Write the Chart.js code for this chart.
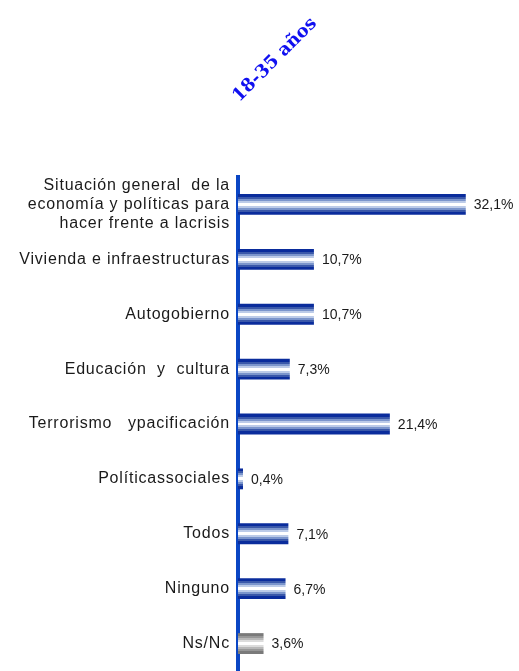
<!DOCTYPE html>
<html><head><meta charset="utf-8">
<script src="https://cdn.jsdelivr.net/npm/chart.js@4.4.1/dist/chart.umd.min.js"></script>
<style>html,body{margin:0;padding:0;background:#fff;}#wrap{width:519px;height:671px;position:relative;}</style>
</head><body><div id="wrap"><canvas id="c" width="519" height="671"></canvas></div>
<script>
const categories = [
  ["Situación general  de la", "economía y políticas para", "hacer frente a lacrisis"],
  "Vivienda e infraestructuras",
  "Autogobierno",
  "Educación  y  cultura",
  "Terrorismo   ypacificación",
  "Políticassociales",
  "Todos",
  "Ninguno",
  "Ns/Nc"
];
const values = [32.1, 10.7, 10.7, 7.3, 21.4, 0.4, 7.1, 6.7, 3.6];
const valueLabels = ["32,1%", "10,7%", "10,7%", "7,3%", "21,4%", "0,4%", "7,1%", "6,7%", "3,6%"];
const isGray = [false, false, false, false, false, false, false, false, true];
const title = "18-35 años";

const blueStops = ["#0a2c9c","#3a58aa","#7b95cc","#bccbe8","#ffffff","#bccbe8","#7b95cc","#3a58aa","#0a2c9c"];
const grayStops = ["#7a7a7a","#989898","#b8b8b8","#dcdcdc","#ffffff","#dcdcdc","#b8b8b8","#989898","#7a7a7a"];
const stripeWeights = [3, 2, 2, 2, 3, 2, 2, 2, 3];

function stripe(ctx, top, bottom, cols) {
  const g = ctx.createLinearGradient(0, top, 0, bottom);
  const total = stripeWeights.reduce((a, b) => a + b, 0);
  let acc = 0;
  for (let i = 0; i < cols.length; i++) {
    const s = acc / total;
    acc += stripeWeights[i];
    const e = Math.min(1, acc / total - 0.0001);
    g.addColorStop(s, cols[i]);
    g.addColorStop(e, cols[i]);
  }
  return g;
}

const stripePlugin = {
  id: 'stripe',
  beforeDraw(chart) {
    chart.ctx.letterSpacing = '0.8px';
  },
  beforeDatasetsDraw(chart) {
    chart.ctx.letterSpacing = '0px';
    const meta = chart.getDatasetMeta(0);
    meta.data.forEach((el, i) => {
      const top = el.y - el.height / 2, bottom = el.y + el.height / 2;
      const opts = Object.assign({}, el.options);
      opts.backgroundColor = stripe(chart.ctx, top, bottom, isGray[i] ? grayStops : blueStops);
      el.options = opts;
    });
  },
  afterDatasetsDraw(chart) {
    const ctx = chart.ctx;
    const meta = chart.getDatasetMeta(0);
    ctx.save();
    ctx.letterSpacing = '0px';
    ctx.font = '14px "Liberation Sans", Arial, sans-serif';
    ctx.fillStyle = '#1a1a1a';
    ctx.textBaseline = 'middle';
    ctx.textAlign = 'left';
    meta.data.forEach((el, i) => {
      ctx.fillText(valueLabels[i], Math.max(el.x, 243) + 8, el.y + 1);
    });
    // title
    ctx.translate(275, 60);
    ctx.rotate(-Math.PI / 4);
    ctx.font = 'bold 18px "DejaVu Serif", serif';
    ctx.fillStyle = '#1010f0';
    ctx.textAlign = 'center';
    ctx.fillText(title, 0, 0);
    ctx.restore();
  }
};

new Chart(document.getElementById('c'), {
  type: 'bar',
  data: {
    labels: categories,
    datasets: [{
      data: values,
      backgroundColor: '#0a2c9c',
      borderWidth: 0,
      barPercentage: 0.38,
      categoryPercentage: 1,
      minBarLength: 5
    }]
  },
  options: {
    indexAxis: 'y',
    responsive: false,
    animation: false,
    devicePixelRatio: 1,
    layout: { padding: { top: 177, right: 0, bottom: 0, left: 0 } },
    plugins: { legend: { display: false }, tooltip: { enabled: false } },
    scales: {
      x: {
        display: false,
        min: 0,
        max: 39.6
      },
      y: {
        grid: { display: false, drawTicks: false },
        border: { display: true, color: '#0a46c4', width: 4 },
        ticks: {
          autoSkip: false,
          color: '#1a1a1a',
          padding: 8,
          font: { family: '"Liberation Sans", Arial, sans-serif', size: 16, lineHeight: 1.2 }
        },
        afterFit(scale) {
          scale.width = 238;
          scale.paddingTop = 0;
          scale.paddingBottom = 0;
        }
      }
    }
  },
  plugins: [stripePlugin]
});
</script></body></html>
